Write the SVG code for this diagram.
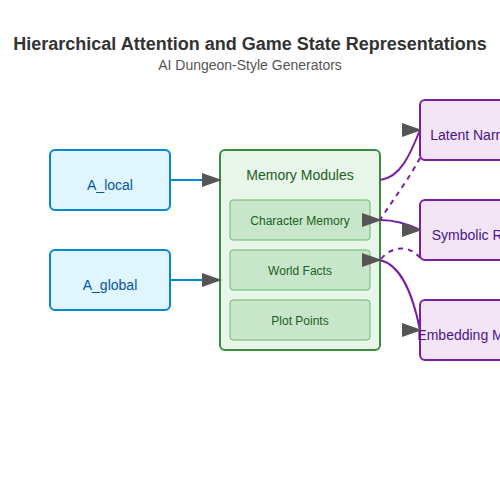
<svg xmlns="http://www.w3.org/2000/svg" width="500" height="500" viewBox="0 0 500 500">
<style>
text{font-family:"Liberation Sans",Arial,sans-serif;text-anchor:middle}
.title{font-size:18px;font-weight:bold;fill:#333}
.sub{font-size:14px;fill:#555}
.in rect{fill:#e1f5fe;stroke:#0288d1;stroke-width:2}
.in text{font-size:14px;fill:#01579b}
.mem>rect{fill:#e8f5e9;stroke:#388e3c;stroke-width:2}
.mem>text{font-size:14px;fill:#1b5e20}
.sm rect{fill:#c8e6c9;stroke:#66bb6a;stroke-width:1}
.sm text{font-size:12px;fill:#1b5e20}
.out rect{fill:#f3e5f5;stroke:#7b1fa2;stroke-width:2}
.out text{font-size:14px;fill:#4a148c}
.e{fill:none;stroke-width:2}
.blue{stroke:#0288d1}
.pur{stroke:#7b1fa2}
.dash{stroke-dasharray:5,5}
</style>
<defs>
<marker id="ah" markerWidth="10" markerHeight="7" refX="9" refY="3.5" orient="0" markerUnits="strokeWidth">
<polygon points="0 0, 10 3.5, 0 7" fill="#555"/>
</marker>
</defs>
<rect width="500" height="500" fill="#fff"/>
<text class="title" x="250" y="50">Hierarchical Attention and Game State Representations</text>
<text class="sub" x="250" y="70">AI Dungeon-Style Generators</text>

<g id="A_local" class="in">
<rect x="50" y="150" width="120" height="60" rx="5"/>
<text x="110" y="190">A_local</text>
</g>
<g id="A_global" class="in">
<rect x="50" y="250" width="120" height="60" rx="5"/>
<text x="110" y="290">A_global</text>
</g>

<g id="memory" class="mem">
<rect x="220" y="150" width="160" height="200" rx="5"/>
<text x="300" y="180">Memory Modules</text>
<g id="character" class="sm">
<rect x="230" y="200" width="140" height="40" rx="3"/>
<text x="300" y="225">Character Memory</text>
</g>
<g id="world" class="sm">
<rect x="230" y="250" width="140" height="40" rx="3"/>
<text x="300" y="275">World Facts</text>
</g>
<g id="plot" class="sm">
<rect x="230" y="300" width="140" height="40" rx="3"/>
<text x="300" y="325">Plot Points</text>
</g>
</g>

<g id="latent" class="out">
<rect x="420" y="100" width="120" height="60" rx="5"/>
<text x="480" y="140">Latent Narrative</text>
</g>
<g id="symbolic" class="out">
<rect x="420" y="200" width="120" height="60" rx="5"/>
<text x="480" y="240">Symbolic Rules</text>
</g>
<g id="embedding" class="out">
<rect x="420" y="300" width="120" height="60" rx="5"/>
<text x="480" y="340">Embedding Memory</text>
</g>

<g id="connectors">
<path class="e blue" d="M170,180 L220,180" marker-end="url(#ah)"/>
<path class="e blue" d="M170,280 L220,280" marker-end="url(#ah)"/>
<path class="e pur" d="M380,180 C400,178 410,155 420,130" marker-end="url(#ah)"/>
<path class="e pur dash" d="M420,158 C410,177 395,197 380,220" marker-end="url(#ah)"/>
<path class="e pur" d="M380,220 C395,220 410,225 420,230" marker-end="url(#ah)"/>
<path class="e pur dash" d="M420,258 C410,245 392,245 380,260" marker-end="url(#ah)"/>
<path class="e pur" d="M380,260 C400,265 412,290 420,330" marker-end="url(#ah)"/>
</g>
</svg>
